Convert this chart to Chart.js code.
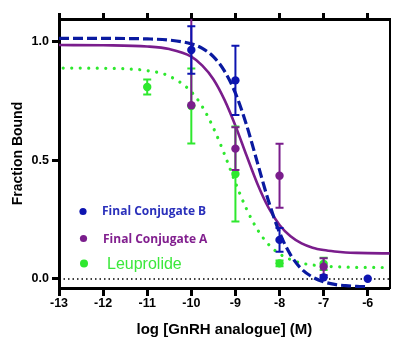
<!DOCTYPE html>
<html>
<head>
<meta charset="utf-8">
<script src="https://cdn.jsdelivr.net/npm/chart.js@4"></script>
<style>
  html, body { margin: 0; padding: 0; background: #fff; }
</style>
</head>
<body>
<canvas id="bindingChart" width="394" height="339"></canvas>
<script>
const conjBDose = [-10, -9, -8, -7, -6];
const conjBFrac = [0.966, 0.838, 0.165, 0.007, 0.001];
const conjBErr = [0.10, 0.146, 0.05, 0, 0];

const conjADose = [-10, -9, -8, -7];
const conjAFrac = [0.733, 0.55, 0.436, 0.052];
const conjAErrUp = [0.4, 0.09, 0.135, 0.035];
const conjAErrDown = [0, 0.09, 0.135, 0.035];

const leuDose = [-11, -10, -9, -8, -7];
const leuFrac = [0.81, 0.73, 0.443, 0.066, 0.064];
const leuErr = [0.032, 0.158, 0.2, 0.012, 0.026];

// Fitted curves
const fitDose = [-13, -12, -11, -10.5, -10, -9.75, -9.5, -9.25, -9, -8.75, -8.5, -8.25, -8, -7.75, -7.5, -7.25, -7, -6.75, -6.5, -6.25, -6, -5.5];
const conjBFit = [1.015, 1.015, 1.013, 1.008, 0.992, 0.973, 0.938, 0.878, 0.784, 0.651, 0.49, 0.329, 0.196, 0.102, 0.042, 0.008, -0.012, -0.023, -0.028, -0.031, -0.033, null];
const conjAFit = [0.987, 0.986, 0.981, 0.970, 0.938, 0.900, 0.843, 0.757, 0.647, 0.522, 0.401, 0.301, 0.228, 0.180, 0.150, 0.132, 0.122, 0.116, 0.112, 0.110, 0.109, 0.108];
const leuFit = [0.890, 0.889, 0.879, 0.856, 0.790, 0.727, 0.638, 0.527, 0.406, 0.296, 0.208, 0.146, 0.106, 0.082, 0.067, 0.059, 0.054, 0.052, 0.050, 0.049, 0.049, 0.048];

const xTicks = [-13, -12, -11, -10, -9, -8, -7, -6];
const yTicks = [0, 0.5, 1.0];

const BLUE = '#0d14b0';
const PURPLE = '#7a1d8c';
const GREEN = '#2ee82e';

const pts = (xs, ys) => xs.map((x, i) => ({ x: x, y: ys[i] })).filter(p => p.y !== null);

// error bars drawn just under each point set
const errorBars = {
  id: 'errorBars',
  beforeDatasetDraw(chart, args) {
    const ds = chart.data.datasets[args.index];
    if (!ds.errUp) return;
    const { ctx, chartArea: a, scales } = chart;
    const x = scales.x, y = scales.y;
    ctx.save();
    ctx.beginPath();
    ctx.rect(a.left, a.top, a.right - a.left, a.bottom - a.top);
    ctx.clip();
    ctx.strokeStyle = ds.borderColor;
    ctx.lineWidth = 2;
    ds.data.forEach((p, i) => {
      const up = ds.errUp[i], down = ds.errDown[i];
      if (!up && !down) return;
      const px = x.getPixelForValue(p.x);
      const top = y.getPixelForValue(p.y + up);
      const bot = y.getPixelForValue(p.y - down);
      ctx.beginPath();
      ctx.moveTo(px, top);
      ctx.lineTo(px, bot);
      if (up) { ctx.moveTo(px - 4, top); ctx.lineTo(px + 4, top); }
      if (down) { ctx.moveTo(px - 4, bot); ctx.lineTo(px + 4, bot); }
      ctx.stroke();
    });
    ctx.restore();
  }
};

// legend sitting inside the plot, lower left
const insideLegend = {
  id: 'insideLegend',
  afterDraw(chart) {
    const ctx = chart.ctx;
    const rows = [
      { label: 'Final Conjugate B', color: BLUE, text: '#2a30bb', dx: 83, dy: 211.5, tx: 102, ty: 215, r: 3.6, font: 'bold 12px "Open Sans"' },
      { label: 'Final Conjugate A', color: PURPLE, text: '#82208f', dx: 83.5, dy: 238.5, tx: 103, ty: 242.5, r: 3.6, font: 'bold 12px "Open Sans"' },
      { label: 'Leuprolide', color: GREEN, text: '#3be83b', dx: 84, dy: 263.5, tx: 107, ty: 268.5, r: 4, font: '16px "Liberation Sans"' }
    ];
    ctx.save();
    rows.forEach(r => {
      ctx.fillStyle = r.color;
      ctx.beginPath();
      ctx.arc(r.dx, r.dy, r.r, 0, Math.PI * 2);
      ctx.fill();
      ctx.font = r.font;
      ctx.fillStyle = r.text;
      ctx.textBaseline = 'alphabetic';
      ctx.fillText(r.label, r.tx, r.ty);
    });
    ctx.restore();
  }
};

const tickFont = { family: '"Liberation Sans", Arial', weight: 'bold', size: 12.5 };
const titleFont = { family: '"Liberation Sans", Arial', weight: 'bold', size: 15 };

new Chart(document.getElementById('bindingChart'), {
  type: 'scatter',
  data: {
    datasets: [
      { label: 'Final Conjugate B', data: pts(conjBDose, conjBFrac), errUp: conjBErr, errDown: conjBErr,
        backgroundColor: BLUE, borderColor: BLUE, pointRadius: 4.2, pointBorderWidth: 0 },
      { label: 'Final Conjugate A', data: pts(conjADose, conjAFrac), errUp: conjAErrUp, errDown: conjAErrDown,
        backgroundColor: PURPLE, borderColor: PURPLE, pointRadius: 4.2, pointBorderWidth: 0 },
      { label: 'Leuprolide', data: pts(leuDose, leuFrac), errUp: leuErr, errDown: leuErr,
        backgroundColor: GREEN, borderColor: GREEN, pointRadius: 4.2, pointBorderWidth: 0 },
      { label: 'B fit', data: pts(fitDose, conjBFit), showLine: true, pointRadius: 0,
        borderColor: '#0a1aa0', borderWidth: 3.2, borderDash: [10, 4], cubicInterpolationMode: 'monotone' },
      { label: 'A fit', data: pts(fitDose, conjAFit), showLine: true, pointRadius: 0,
        borderColor: PURPLE, borderWidth: 2.6, cubicInterpolationMode: 'monotone' },
      { label: 'Leuprolide fit', data: pts(fitDose, leuFit), showLine: true, pointRadius: 0,
        borderColor: GREEN, borderWidth: 3.2, borderDash: [0.01, 8.5], borderDashOffset: -4.2,
        borderCapStyle: 'round', cubicInterpolationMode: 'monotone' },
      { label: 'zero', data: [{ x: -13, y: 0 }, { x: -5.5, y: 0 }], showLine: true, pointRadius: 0,
        borderColor: '#000', borderWidth: 1.5, borderDash: [1.5, 3] }
    ]
  },
  options: {
    responsive: false,
    animation: false,
    events: [],
    layout: { padding: 0 },
    plugins: { legend: { display: false }, tooltip: { enabled: false } },
    scales: {
      x: {
        type: 'linear', position: 'bottom', min: -13, max: -5.5,
        afterBuildTicks: s => { s.ticks = xTicks.map(v => ({ value: v })); },
        ticks: { color: '#000', font: tickFont, padding: 0, maxRotation: 0, autoSkip: false, callback: v => String(v) },
        grid: { drawOnChartArea: false, tickLength: 8, tickWidth: 3, tickColor: '#000' },
        border: { color: '#000', width: 3 },
        title: { display: true, text: 'log [GnRH analogue] (M)', color: '#000', font: titleFont, padding: { top: 0, bottom: 0 } },
        afterFit: s => { s.height = 51; }
      },
      xTop: {
        type: 'linear', position: 'top', min: -13, max: -5.5,
        afterBuildTicks: s => { s.ticks = xTicks.map(v => ({ value: v })); },
        ticks: { display: false },
        grid: { drawOnChartArea: false, tickLength: 6, tickWidth: 3, tickColor: '#000' },
        border: { color: '#000', width: 3 },
        afterFit: s => { s.height = 19; }
      },
      y: {
        type: 'linear', position: 'left', min: -0.038, max: 1.097,
        afterBuildTicks: s => { s.ticks = yTicks.map(v => ({ value: v })); },
        ticks: { color: '#000', font: tickFont, padding: 3, callback: v => v.toFixed(1) },
        grid: { drawOnChartArea: false, tickLength: 7, tickWidth: 3, tickColor: '#000' },
        border: { color: '#000', width: 3 },
        title: { display: true, text: 'Fraction Bound', color: '#000', font: { family: '"Liberation Sans", Arial', weight: 'bold', size: 14 }, padding: { top: 10, bottom: 0 } },
        afterFit: s => { s.width = 59; }
      },
      yRight: {
        type: 'linear', position: 'right',
        ticks: { display: false },
        grid: { display: false },
        border: { color: '#000', width: 2 },
        afterFit: s => { s.width = 2; }
      }
    }
  },
  plugins: [errorBars, insideLegend]
});
</script>
</body>
</html>
